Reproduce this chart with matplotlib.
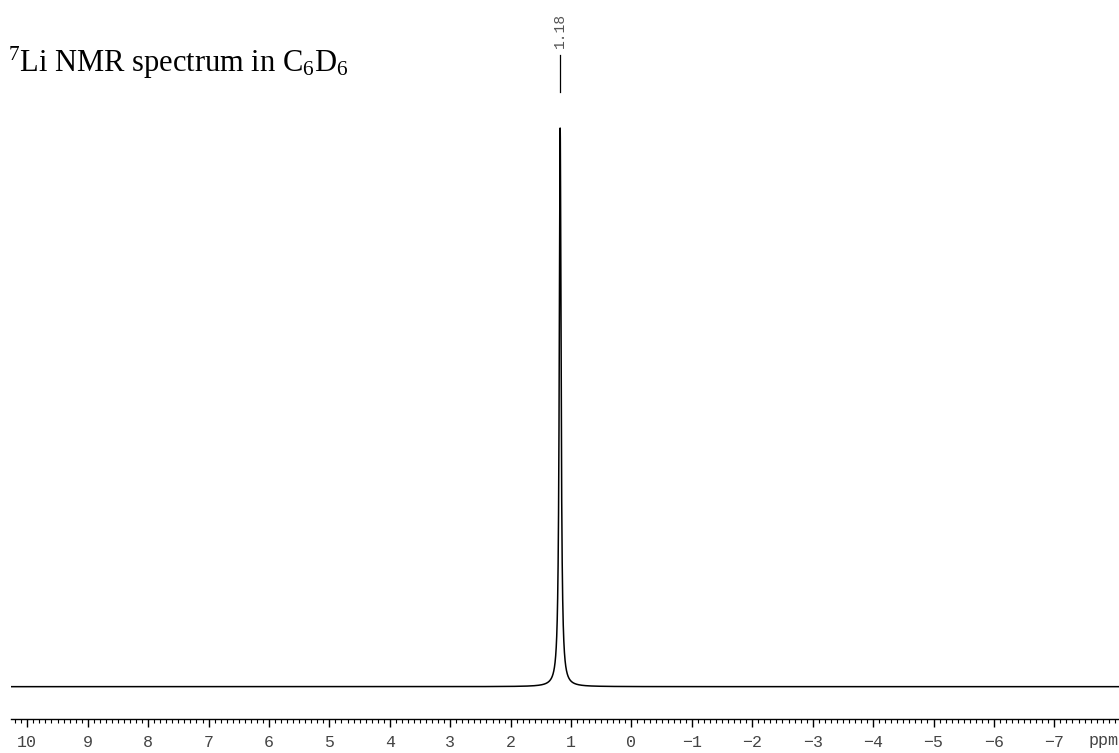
import matplotlib
matplotlib.use("Agg")
import matplotlib.pyplot as plt
import numpy as np
from matplotlib.ticker import MultipleLocator

# 7Li spectrum: one Lorentzian line
peak_ppm = [1.18]
peak_height = [1.0]
peak_hwhm = [0.018]
peak_labels = ["1.18"]

ppm_left, ppm_right = 10.27, -8.07
major_ticks = list(range(10, -8, -1))

plt.rcParams['mathtext.fontset'] = 'custom'
plt.rcParams['mathtext.rm'] = 'Liberation Serif'
plt.rcParams['mathtext.it'] = 'Liberation Serif:italic'
plt.rcParams['mathtext.default'] = 'regular'

W, H = 1119, 753
fig = plt.figure(figsize=(W / 100, H / 100), dpi=100)
ax = fig.add_axes([11 / W, 33.7 / H, 1 - 11 / W, 1 - 33.7 / H])

ppm = np.linspace(ppm_left, ppm_right, 20000)
spec = np.zeros_like(ppm)
for p, h, g in zip(peak_ppm, peak_height, peak_hwhm):
    spec += h / (1 + ((ppm - p) / g) ** 2)

ax.plot(ppm, spec, color="black", lw=1.1)
ax.set_xlim(ppm_left, ppm_right)
ax.set_ylim(-0.0584, 1.229)

# peak labels on top
for p, h, lab in zip(peak_ppm, peak_height, peak_labels):
    ax.plot([p, p], [h + 0.0644, h + 0.1307], color="black", lw=0.9)
    ax.text(p, h + 0.143, lab, rotation=90, ha="center", va="bottom",
            family="Liberation Mono", fontsize=10.5, color="#555555")

for s in ["top", "left", "right"]:
    ax.spines[s].set_visible(False)
ax.spines["bottom"].set_linewidth(1.0)
ax.set_yticks([])
ax.xaxis.set_minor_locator(MultipleLocator(0.1))
ax.tick_params(axis="x", which="major", length=6, width=1.0, direction="out",
               pad=5, labelsize=12, labelcolor="#444444")
ax.tick_params(axis="x", which="minor", length=3, width=0.8, direction="out")
ax.set_xticks(major_ticks)
ax.set_xticklabels([str(v).replace("-", "\u2212") for v in major_ticks],
                   family="Liberation Mono")

fig.text(1104 / W, 1 - 741 / H, "ppm", ha="center", va="center",
         family="Liberation Mono", fontsize=12, color="#444444")

fig.text(8 / W, 1 - 72 / H, r"$^7$Li NMR spectrum in C$_6$D$_6$",
         ha="left", va="baseline", family="Liberation Serif", fontsize=22)

fig.savefig("out.png", dpi=100)
